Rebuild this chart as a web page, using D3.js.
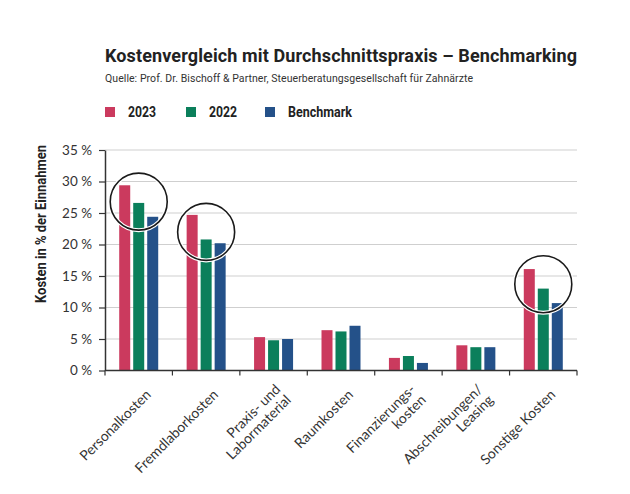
<!DOCTYPE html>
<html>
<head>
<meta charset="utf-8">
<script src="https://cdn.jsdelivr.net/npm/d3@7"></script>
<style>
  body { margin: 0; background: #fff; }
  svg { display: block; }
</style>
</head>
<body>
<div id="chart"></div>
<script>
// data
var categories = ["Personalkosten", "Fremdlaborkosten", "Praxis- und Labormaterial", "Raumkosten",
                  "Finanzierungskosten", "Abschreibungen/Leasing", "Sonstige Kosten"];
var tickLabels = [["Personalkosten"], ["Fremdlaborkosten"], ["Praxis- und", "Labormaterial"], ["Raumkosten"],
                  ["Finanzierungs-", "kosten"], ["Abschreibungen/", "Leasing"], ["Sonstige Kosten"]];
var seriesNames = ["2023", "2022", "Benchmark"];
var values2023 = [29.4, 24.7, 5.3, 6.4, 2.0, 4.0, 16.1];
var values2022 = [26.6, 20.8, 4.8, 6.2, 2.3, 3.7, 13.0];
var valuesBenchmark = [24.4, 20.2, 5.0, 7.1, 1.2, 3.7, 10.7];
var yTicks = [0, 5, 10, 15, 20, 25, 30, 35];
// circled groups (category, centre value in %)
var highlightCategories = ["Personalkosten", "Fremdlaborkosten", "Sonstige Kosten"];
var highlightCenters = [26.8, 22.0, 13.7];

var colors = ["#CB3A5E", "#0B7F5B", "#245189"];
var seriesValues = [values2023, values2022, valuesBenchmark];

var width = 630, height = 494;
var bold = "Roboto, sans-serif";
var light = "Lato, 'Open Sans', sans-serif";

var svg = d3.select("#chart")
  .append("svg")
    .attr("width", width)
    .attr("height", height);

// title + source
svg.append("text")
    .attr("x", 105)
    .attr("y", 61.5)
    .attr("font-family", bold)
    .attr("font-weight", 700)
    .attr("font-size", "18px")
    .attr("fill", "#222")
    .attr("textLength", 472)
    .attr("lengthAdjust", "spacing")
    .text("Kostenvergleich mit Durchschnittspraxis \u2013 Benchmarking");

svg.append("text")
    .attr("x", 105)
    .attr("y", 81.5)
    .attr("font-family", bold)
    .attr("font-size", "10.5px")
    .attr("fill", "#333")
    .attr("textLength", 368)
    .attr("lengthAdjust", "spacing")
    .text("Quelle: Prof. Dr. Bischoff & Partner, Steuerberatungsgesellschaft f\u00fcr Zahn\u00e4rzte");

// legend (condensed bold look: squeeze Roboto bold to the measured widths)
var legendX = [105, 186, 265];
var legendWidth = [28, 28, 64];
var legend = svg.selectAll(".legend")
  .data(seriesNames)
  .enter()
  .append("g")
    .attr("transform", function(d, i) { return "translate(" + legendX[i] + ",107)"; });
legend.append("rect")
    .attr("width", 10)
    .attr("height", 10)
    .attr("fill", function(d, i) { return colors[i]; });
legend.append("text")
    .attr("x", 23)
    .attr("y", 9.5)
    .attr("font-family", bold)
    .attr("font-weight", 700)
    .attr("font-size", "14px")
    .attr("fill", "#222")
    .attr("textLength", function(d, i) { return legendWidth[i]; })
    .attr("lengthAdjust", "spacingAndGlyphs")
    .text(function(d) { return d; });

// scales
var x = d3.scaleBand()
  .domain(categories)
  .range([105, 577])
  .padding(0);

var groupWidth = 39;
var xSub = d3.scaleBand()
  .domain(seriesNames)
  .range([0, groupWidth])
  .paddingInner(0.214);

var y = d3.scaleLinear()
  .domain([0, 35])
  .range([370.5, 150]);

// gridlines
svg.append("g")
  .selectAll("line")
  .data(yTicks.filter(function(d) { return d > 0; }))
  .enter()
  .append("line")
    .attr("x1", 105)
    .attr("x2", 577)
    .attr("y1", function(d) { return y(d); })
    .attr("y2", function(d) { return y(d); })
    .attr("stroke", "#cfcfcf")
    .attr("stroke-width", 1.2);

// bars
var groups = svg.append("g")
  .selectAll("g")
  .data(categories)
  .enter()
  .append("g")
    .attr("transform", function(d) {
      return "translate(" + (x(d) + (x.bandwidth() - groupWidth) / 2) + ",0)";
    });

groups.selectAll("rect")
  .data(function(d, ci) {
    return seriesNames.map(function(s, si) { return {series: s, si: si, value: seriesValues[si][ci]}; });
  })
  .enter()
  .append("rect")
    .attr("x", function(d) { return xSub(d.series); })
    .attr("width", xSub.bandwidth())
    .attr("y", function(d) { return y(d.value); })
    .attr("height", function(d) { return y(0) - y(d.value); })
    .attr("fill", function(d) { return colors[d.si]; });

// y axis
var yAxis = svg.append("g")
  .attr("transform", "translate(105,0)")
  .call(d3.axisLeft(y)
    .tickValues(yTicks)
    .tickSize(6)
    .tickSizeOuter(0)
    .tickPadding(7)
    .tickFormat(function(d) { return d + " %"; }));
yAxis.select(".domain").attr("stroke", "#333").attr("stroke-width", 1.5);
yAxis.selectAll(".tick line").attr("stroke", "#333").attr("stroke-width", 1.2);
yAxis.selectAll(".tick text")
    .attr("font-family", light)
    .attr("font-size", "13.5px")
    .attr("fill", "#333");

svg.append("text")
    .attr("transform", "translate(45.5,224) rotate(-90)")
    .attr("text-anchor", "middle")
    .attr("font-family", bold)
    .attr("font-weight", 700)
    .attr("font-size", "14.5px")
    .attr("fill", "#222")
    .attr("textLength", 158)
    .attr("lengthAdjust", "spacingAndGlyphs")
    .text("Kosten in % der Einnahmen");

// x axis: baseline with ticks at band edges
var xAxis = svg.append("g");
xAxis.append("line")
    .attr("x1", 105)
    .attr("x2", 577)
    .attr("y1", y(0))
    .attr("y2", y(0))
    .attr("stroke", "#333")
    .attr("stroke-width", 1.5);
xAxis.selectAll(".edge")
  .data(categories.map(function(d) { return x(d); }).concat([x.range()[1]]))
  .enter()
  .append("line")
    .attr("x1", function(d) { return d; })
    .attr("x2", function(d) { return d; })
    .attr("y1", y(0))
    .attr("y2", y(0) + 5)
    .attr("stroke", "#333")
    .attr("stroke-width", 1.2);

var lineHeight = 15;
var labels = xAxis.selectAll(".xlabel")
  .data(categories)
  .enter()
  .append("text")
    .attr("transform", function(d) {
      return "translate(" + (x(d) + x.bandwidth() / 2 + 13) + "," + (y(0) + 25) + ") rotate(-45)";
    })
    .attr("text-anchor", "end")
    .attr("font-family", light)
    .attr("font-size", "14px")
    .attr("fill", "#333");
labels.selectAll("tspan")
  .data(function(d, i) { return tickLabels[i]; })
  .enter()
  .append("tspan")
    .attr("x", 0)
    .attr("y", function(d, i, nodes) { return (i - (nodes.length - 1) / 2) * lineHeight; })
    .text(function(d) { return d; });

// circles around highlighted groups
var circles = svg.append("g")
  .selectAll("g")
  .data(highlightCategories)
  .enter()
  .append("g")
    .attr("transform", function(d, i) {
      return "translate(" + (x(d) + x.bandwidth() / 2) + "," + y(highlightCenters[i]) + ")";
    });
circles.append("circle")
    .attr("r", 28.5)
    .attr("fill", "none")
    .attr("stroke", "#fff")
    .attr("stroke-width", 4);
circles.append("circle")
    .attr("r", 28.5)
    .attr("fill", "none")
    .attr("stroke", "#1a1a1a")
    .attr("stroke-width", 1.6);
</script>
</body>
</html>
